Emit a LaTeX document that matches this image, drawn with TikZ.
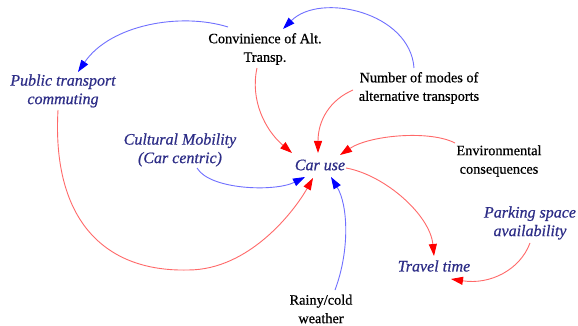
\documentclass[tikz,border=0pt]{standalone}
\usepackage{fontspec}
\setmainfont[FakeBold=0.6]{Liberation Serif}
\usetikzlibrary{arrows.meta}
\definecolor{varblue}{RGB}{45,45,135}
\definecolor{linkblue}{RGB}{112,112,255}
\definecolor{tipblue}{RGB}{0,0,255}
\definecolor{linkred}{RGB}{255,105,105}
\definecolor{tipred}{RGB}{255,0,0}
\tikzset{
  plainvar/.style={inner sep=0pt, align=center, text=black,
    font=\fontsize{14.3}{18.5}\selectfont},
  softvar/.style={inner sep=0pt, align=center, text=varblue,
    font=\fontsize{16}{18.5}\selectfont\itshape},
  neglink/.style={draw=linkblue, line width=0.9pt,
    -{Triangle[length=12pt,width=8pt,color=tipblue]}},
  poslink/.style={draw=linkred, line width=0.9pt,
    -{Triangle[length=12pt,width=8pt,color=tipred]}}
}
\begin{document}
\begin{tikzpicture}[x=1pt,y=-1pt]
\useasboundingbox[fill=white] (0,0) rectangle (578,326);

% variables
\node[plainvar] (conv) at (265,49) {Convinience of Alt.\\Transp.};
\node[plainvar] (num) at (419,88) {Number of modes of\\alternative transports};
\node[softvar] (pub) at (63,91) {Public transport\\commuting};
\node[softvar] (cult) at (180,150) {Cultural Mobility\\(Car centric)};
\node[softvar] (car) at (320,165) {Car use};
\node[plainvar] (env) at (499,161) {Environmental\\consequences};
\node[softvar] (park) at (530,223) {Parking space\\availability};
\node[softvar] (travel) at (434,266) {Travel time};
\node[plainvar] (rain) at (321,309) {Rainy/cold\\weather};

% blue links
\draw[neglink] ([shift={(-5,-20)}]num.center)
  .. controls (410,12) and (320,-8) .. ([shift={(18,-20)}]conv.center);
\draw[neglink] ([shift={(-37,-22)}]conv.center)
  .. controls (180,12) and (110,25) .. ([shift={(15,-19)}]pub.center);
\draw[neglink] ([shift={(17,18)}]cult.center)
  .. controls (210,190) and (275,192) .. ([shift={(-15,12)}]car.center);
\draw[neglink] ([shift={(14,-19)}]rain.center)
  .. controls (350,250) and (348,205) .. ([shift={(11,12)}]car.center);

% red links
\draw[poslink] ([shift={(-8,19)}]conv.center)
  .. controls (250,100) and (265,130) .. ([shift={(-28,-12)}]car.center);
\draw[poslink] ([shift={(-66,2)}]num.center)
  .. controls (330,100) and (318,120) .. ([shift={(-2,-12)}]car.center);
\draw[poslink] ([shift={(-44,-18)}]env.center)
  .. controls (430,130) and (370,135) .. ([shift={(20,-10)}]car.center);
\draw[poslink] ([shift={(-5,19)}]pub.center)
  .. controls (52,215) and (100,272) .. (188,270)
  .. controls (250,270) and (295,210) .. ([shift={(-7,13)}]car.center);
\draw[poslink] ([shift={(26,3)}]car.center)
  .. controls (385,175) and (430,215) .. ([shift={(0,-10)}]travel.center);
\draw[poslink] ([shift={(0,20)}]park.center)
  .. controls (520,270) and (490,285) .. ([shift={(17,13)}]travel.center);
\end{tikzpicture}
\end{document}
